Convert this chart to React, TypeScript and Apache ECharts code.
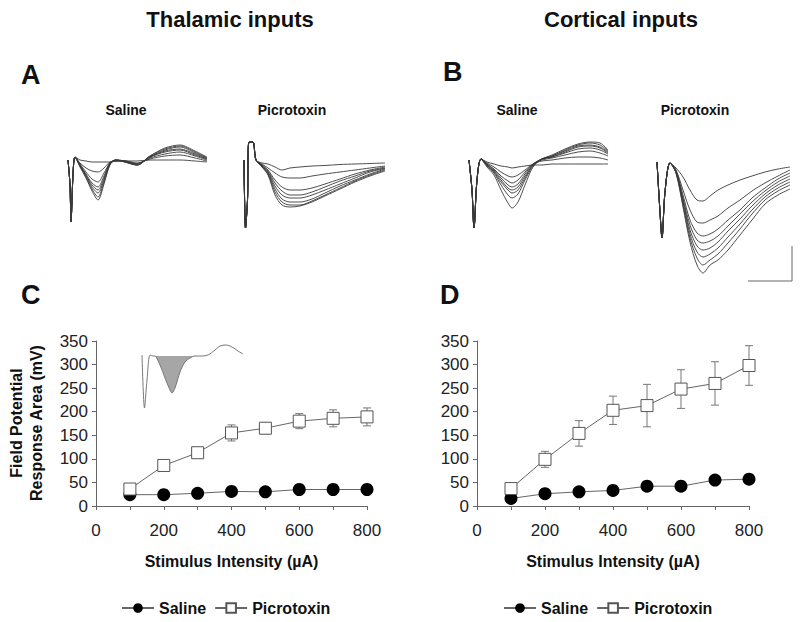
import React, { useEffect, useRef } from "react";
import * as echarts from "echarts";

// ---------- Summary data (stimulus intensity in µA, response area in mV) ----------
const intensities = [100, 200, 300, 400, 500, 600, 700, 800];
const thalSaline = [24, 24, 27, 31, 30, 35, 35, 35];
const thalPicro = [36, 86, 113, 155, 165, 180, 186, 189];
const thalPicroErr = [3, 5, 6, 17, 12, 16, 18, 19];
const cortSaline = [16, 26, 30, 33, 42, 42, 55, 57];
const cortPicro = [37, 99, 154, 203, 213, 248, 260, 298];
const cortPicroErr = [4, 17, 27, 30, 45, 41, 46, 42];
const yTicks = [0, 50, 100, 150, 200, 250, 300, 350];
const xLabelTicks = [0, 200, 400, 600, 800];

// ---------- Example field potential traces (time ms, amplitude µV) ----------
const tThalSal = [0, 0.2, 0.3, 0.5, 0.7, 1.2, 1.8, 2.4, 3.0, 3.6, 4.2, 4.8, 5.7, 6.9, 8.2, 9.7, 11.2, 12.7, 13.9];
const thalSalTraces = [
  [0, -250, -620, -150, 30, 0, -10, -20, -20, -20, -20, -10, -10, -10, 0, 0, 0, -10, -20],
  [0, -250, -620, -150, 30, -30, -80, -110, -120, -80, -20, -10, -10, -30, 10, 40, 50, 20, -10],
  [0, -250, -620, -150, 30, -40, -120, -190, -220, -130, -30, -10, -10, -40, 20, 60, 80, 40, 0],
  [0, -250, -620, -150, 30, -50, -140, -230, -270, -160, -30, 0, -10, -40, 30, 80, 100, 50, 10],
  [0, -250, -620, -150, 30, -50, -150, -250, -300, -180, -30, 0, -10, -40, 30, 90, 110, 60, 10],
  [0, -250, -620, -150, 30, -60, -160, -270, -330, -200, -40, 0, -20, -50, 30, 100, 130, 70, 20],
  [0, -250, -620, -150, 30, -60, -170, -290, -370, -220, -40, 0, -20, -50, 40, 110, 140, 80, 20],
  [0, -250, -620, -150, 30, -70, -180, -310, -400, -240, -50, 0, -20, -50, 40, 120, 150, 90, 30],
];

const tThalPic = [0, 0.15, 0.35, 0.5, 0.9, 1.2, 1.8, 2.4, 3.1, 3.8, 4.6, 5.6, 6.8, 8.1, 9.6, 11.1, 12.6, 14.1];
const thalPicTraces = [
  [0, -680, -400, 180, 180, 0, -30, -40, -70, -100, -80, -70, -60, -55, -45, -40, -35, -30],
  [0, -680, -400, 180, 180, 0, -40, -80, -130, -170, -180, -180, -160, -140, -120, -100, -80, -60],
  [0, -680, -400, 180, 180, 0, -50, -100, -200, -270, -300, -300, -280, -240, -190, -140, -100, -70],
  [0, -680, -400, 180, 180, 0, -50, -110, -230, -310, -350, -350, -320, -270, -210, -160, -110, -80],
  [0, -680, -400, 180, 180, 0, -60, -120, -260, -350, -380, -380, -350, -300, -240, -180, -120, -85],
  [0, -680, -400, 180, 180, 0, -60, -130, -290, -390, -420, -420, -390, -330, -260, -200, -140, -90],
  [0, -680, -400, 180, 180, 0, -70, -140, -320, -420, -450, -450, -410, -350, -280, -210, -150, -100],
  [0, -680, -400, 180, 180, 0, -70, -150, -350, -450, -470, -460, -420, -360, -290, -220, -160, -110],
];

const tCortSal = [0, 0.3, 0.5, 0.8, 1.2, 1.8, 2.5, 3.2, 3.9, 4.3, 4.9, 5.6, 6.4, 7.3, 8.3, 9.6, 10.9, 12.1, 13.1, 13.9];
const cortSalTraces = [
  [0, -300, -680, -200, 10, -20, -40, -60, -70, -80, -70, -60, -50, -50, -40, -40, -40, -40, -40, -40],
  [0, -300, -680, -200, 10, -30, -70, -120, -160, -170, -150, -100, -40, -10, 0, 20, 30, 30, 20, 0],
  [0, -300, -680, -200, 10, -40, -90, -160, -210, -230, -200, -120, -40, 0, 20, 50, 80, 90, 70, 40],
  [0, -300, -680, -200, 10, -40, -100, -180, -250, -270, -240, -140, -40, 10, 30, 70, 110, 120, 100, 60],
  [0, -300, -680, -200, 10, -50, -110, -200, -280, -300, -270, -160, -50, 10, 30, 80, 130, 140, 120, 70],
  [0, -300, -680, -200, 10, -50, -120, -220, -300, -330, -300, -180, -50, 10, 40, 90, 140, 150, 130, 80],
  [0, -300, -680, -200, 10, -60, -130, -250, -350, -380, -340, -200, -60, 10, 40, 100, 150, 170, 150, 90],
  [0, -300, -680, -200, 10, -70, -150, -300, -430, -480, -420, -250, -70, 10, 50, 110, 160, 180, 170, 100],
];

const tCortPic = [0, 0.3, 0.5, 0.8, 1.3, 1.9, 2.6, 3.3, 4.0, 4.6, 5.3, 6.1, 7.1, 8.3, 9.5, 10.8, 12.1, 13.3];
const cortPicTraces = [
  [0, -500, -760, -300, -10, -60, -150, -280, -380, -390, -340, -280, -230, -180, -140, -100, -70, -50],
  [0, -500, -760, -300, -10, -80, -280, -480, -600, -610, -580, -540, -460, -380, -290, -210, -140, -80],
  [0, -500, -760, -300, -10, -90, -330, -580, -710, -740, -720, -670, -580, -480, -360, -260, -170, -110],
  [0, -500, -760, -300, -10, -90, -360, -630, -780, -810, -790, -740, -640, -520, -400, -290, -200, -140],
  [0, -500, -760, -300, -10, -100, -380, -680, -840, -880, -860, -800, -690, -570, -440, -320, -230, -170],
  [0, -500, -760, -300, -10, -100, -400, -720, -900, -950, -920, -860, -750, -620, -480, -350, -260, -200],
  [0, -500, -760, -300, -10, -110, -430, -760, -960, -1030, -980, -920, -810, -670, -520, -380, -290, -230],
  [0, -500, -760, -300, -10, -110, -450, -800, -1030, -1110, -1030, -980, -880, -730, -580, -420, -330, -270],
];

// Inset: single trace with shaded response area
const tInset = [0.1, 0.35, 0.6, 0.9, 1.2, 1.4, 1.9, 2.4, 2.9, 3.1, 3.4, 3.9, 4.4, 4.9, 5.4, 6.1, 6.7, 7.4, 7.9, 8.5, 9.1, 9.7, 10.2];
const vInset = [10, -520, -240, 10, 0, 0, -90, -220, -340, -370, -320, -160, -60, -20, 0, 0, 10, 60, 100, 110, 90, 50, 20];
const shadeStart = 5;
const shadeEnd = 14;

const FONT = "Liberation Sans, Arial, Helvetica, sans-serif";
const TRACE_COLOR = "#3a3a3a";

function traceSeries(times: number[], traces: number[][], idx: number) {
  return traces.map((tr) => ({
    type: "line",
    xAxisIndex: idx,
    yAxisIndex: idx,
    data: tr.map((v, i) => [times[i], v]),
    symbol: "none",
    smooth: 0.3,
    silent: true,
    lineStyle: { color: TRACE_COLOR, width: 0.9 },
  }));
}

function errorSeries(idx: number, means: number[], errs: number[]) {
  return {
    type: "custom",
    name: "err",
    xAxisIndex: idx,
    yAxisIndex: idx,
    silent: true,
    z: 1,
    data: intensities.map((x, i) => [x, means[i] - errs[i], means[i] + errs[i]]),
    encode: { x: 0, y: [1, 2] },
    renderItem: (_p: any, api: any) => {
      const x = api.value(0);
      const top = api.coord([x, api.value(2)]);
      const bot = api.coord([x, api.value(1)]);
      const w = 4;
      const st = { stroke: "#777", lineWidth: 1 };
      return {
        type: "group",
        children: [
          { type: "line", shape: { x1: top[0], y1: top[1], x2: bot[0], y2: bot[1] }, style: st },
          { type: "line", shape: { x1: top[0] - w, y1: top[1], x2: top[0] + w, y2: top[1] }, style: st },
          { type: "line", shape: { x1: bot[0] - w, y1: bot[1], x2: bot[0] + w, y2: bot[1] }, style: st },
        ],
      };
    },
  };
}

function mainSeries(idx: number, sal: number[], pic: number[]) {
  return [
    {
      type: "line",
      name: "Saline",
      xAxisIndex: idx,
      yAxisIndex: idx,
      data: intensities.map((x, i) => [x, sal[i]]),
      symbol: "circle",
      symbolSize: 13,
      z: 3,
      itemStyle: { color: "#000" },
      lineStyle: { color: "#666", width: 1 },
    },
    {
      type: "line",
      name: "Picrotoxin",
      xAxisIndex: idx,
      yAxisIndex: idx,
      data: intensities.map((x, i) => [x, pic[i]]),
      symbol: "rect",
      symbolSize: 12,
      z: 3,
      itemStyle: { color: "#fff", borderColor: "#555", borderWidth: 1 },
      lineStyle: { color: "#666", width: 1 },
    },
  ];
}

function mainXAxis(idx: number) {
  return {
    type: "value",
    gridIndex: idx,
    min: 0,
    max: 800,
    interval: 100,
    axisLine: { show: true, lineStyle: { color: "#666", width: 1 } },
    axisTick: { show: true, length: 4, lineStyle: { color: "#666" } },
    splitLine: { show: false },
    axisLabel: {
      margin: 16,
      fontSize: 17,
      color: "#222",
      fontFamily: FONT,
      formatter: (v: number) => (xLabelTicks.indexOf(v) >= 0 ? String(v) : ""),
    },
    name: "Stimulus Intensity (µA)",
    nameLocation: "middle",
    nameGap: 47,
    nameTextStyle: { fontSize: 16, fontWeight: "bold", color: "#111", fontFamily: FONT },
  };
}

function mainYAxis(idx: number) {
  return {
    type: "value",
    gridIndex: idx,
    min: 0,
    max: 350,
    interval: 50,
    axisLine: { show: true, lineStyle: { color: "#666", width: 1 } },
    axisTick: { show: true, length: 4, lineStyle: { color: "#666" } },
    splitLine: { show: false },
    axisLabel: {
      margin: 8,
      fontSize: 17,
      color: "#222",
      fontFamily: FONT,
      formatter: (v: number) => (yTicks.indexOf(v) >= 0 ? String(v) : ""),
    },
  };
}

function hiddenAxes(idx: number, xmax: number, ymin: number, ymax: number) {
  return {
    x: { type: "value", gridIndex: idx, min: 0, max: xmax, show: false },
    y: { type: "value", gridIndex: idx, min: ymin, max: ymax, show: false },
  };
}

export default function App() {
  const ref = useRef<HTMLDivElement>(null);
  useEffect(() => {
    if (!ref.current) return;
    const chart = echarts.init(ref.current, null, { renderer: "svg" });

    const hA1 = hiddenAxes(2, 14, -700, 250);
    const hA2 = hiddenAxes(3, 14.5, -700, 250);
    const hB1 = hiddenAxes(4, 14, -700, 250);
    const hB2 = hiddenAxes(5, 13.5, -1200, 100);
    const hIn = hiddenAxes(6, 10.3, -530, 130);

    const titleFont = `bold 22px ${FONT}`;
    const letterFont = `bold 27px ${FONT}`;
    const subFont = `bold 14px ${FONT}`;
    const txt = (x: number, y: number, text: string, font: string, align = "center") => ({
      type: "text",
      x,
      y,
      silent: true,
      style: { text, font, fill: "#111", align, verticalAlign: "middle" },
    });

    const legendBase = {
      top: 595,
      data: ["Saline", "Picrotoxin"],
      itemWidth: 32,
      itemHeight: 12,
      itemGap: 8,
      selectedMode: false,
      textStyle: { fontSize: 16, fontWeight: "bold", color: "#111", fontFamily: FONT },
    };

    const option: any = {
      animation: false,
      backgroundColor: "#fff",
      grid: [
        { left: 96, top: 341, width: 271, height: 165 },
        { left: 477, top: 341, width: 272, height: 165 },
        { left: 68, top: 135, width: 140, height: 95 },
        { left: 244, top: 135, width: 145, height: 95 },
        { left: 469, top: 135, width: 140, height: 95 },
        { left: 657, top: 152, width: 135, height: 130 },
        { left: 141, top: 343, width: 103, height: 66 },
      ],
      xAxis: [mainXAxis(0), mainXAxis(1), hA1.x, hA2.x, hB1.x, hB2.x, hIn.x],
      yAxis: [mainYAxis(0), mainYAxis(1), hA1.y, hA2.y, hB1.y, hB2.y, hIn.y],
      legend: [
        { ...legendBase, left: 116 },
        { ...legendBase, left: 498 },
      ],
      series: [
        errorSeries(0, thalPicro, thalPicroErr),
        errorSeries(1, cortPicro, cortPicroErr),
        ...mainSeries(0, thalSaline, thalPicro),
        ...mainSeries(1, cortSaline, cortPicro),
        ...traceSeries(tThalSal, thalSalTraces, 2),
        ...traceSeries(tThalPic, thalPicTraces, 3),
        ...traceSeries(tCortSal, cortSalTraces, 4),
        ...traceSeries(tCortPic, cortPicTraces, 5),
        {
          type: "line",
          xAxisIndex: 6,
          yAxisIndex: 6,
          data: tInset.slice(shadeStart, shadeEnd + 1).map((t, i) => [t, vInset[i + shadeStart]]),
          symbol: "none",
          smooth: 0.3,
          silent: true,
          lineStyle: { width: 0 },
          areaStyle: { color: "#a6a6a6", opacity: 1 },
        },
        {
          type: "line",
          xAxisIndex: 6,
          yAxisIndex: 6,
          data: tInset.map((t, i) => [t, vInset[i]]),
          symbol: "none",
          smooth: 0.3,
          silent: true,
          lineStyle: { color: "#777", width: 1 },
        },
      ],
      graphic: [
        txt(230, 19, "Thalamic inputs", titleFont),
        txt(621, 19, "Cortical inputs", titleFont),
        txt(21, 75, "A", letterFont, "left"),
        txt(443, 72, "B", letterFont, "left"),
        txt(21, 295, "C", letterFont, "left"),
        txt(440, 295, "D", letterFont, "left"),
        txt(126, 110, "Saline", subFont),
        txt(292, 110, "Picrotoxin", subFont),
        txt(517, 110, "Saline", subFont),
        txt(695, 110, "Picrotoxin", subFont),
        {
          type: "text",
          x: 26,
          y: 423,
          rotation: Math.PI / 2,
          silent: true,
          style: {
            text: "Field Potential\nResponse Area (mV)",
            font: `bold 16px ${FONT}`,
            fill: "#111",
            align: "center",
            verticalAlign: "middle",
            lineHeight: 20,
          },
        },
        { type: "line", silent: true, shape: { x1: 792, y1: 246, x2: 792, y2: 281 }, style: { stroke: "#666", lineWidth: 1 } },
        { type: "line", silent: true, shape: { x1: 748, y1: 281, x2: 792, y2: 281 }, style: { stroke: "#666", lineWidth: 1 } },
      ],
    };
    chart.setOption(option);
    return () => chart.dispose();
  }, []);
  return <div ref={ref} style={{ position: "fixed", left: 0, top: 0, width: 800, height: 622 }} />;
}
